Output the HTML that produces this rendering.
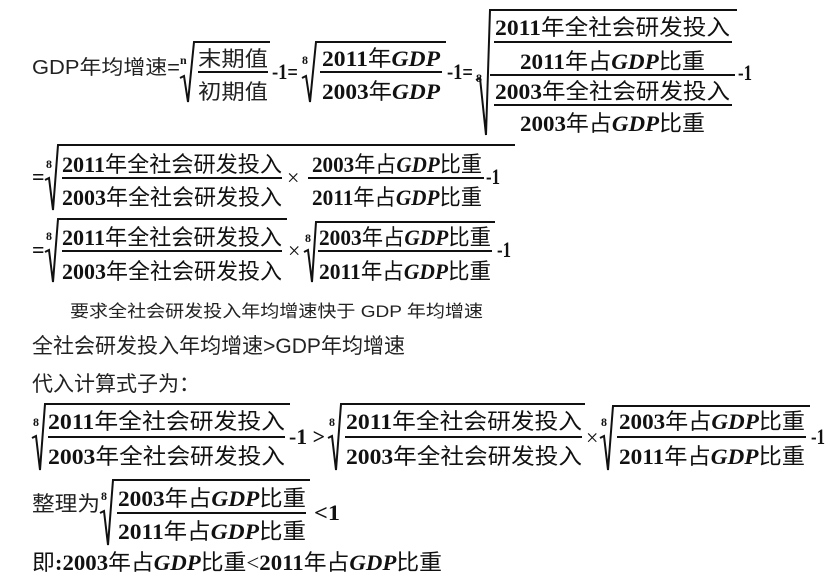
<!DOCTYPE html>
<html><head><meta charset="utf-8"><style>
html,body{margin:0;padding:0;background:#fff;width:830px;height:584px;overflow:hidden}
svg{display:block}
.f{font-family:"Liberation Serif","Noto Sans CJK SC",serif;font-size:22px;fill:#111}
.b{font-weight:bold}
.g{font-weight:bold;font-style:italic}
.s{font-family:"Liberation Sans","Noto Sans CJK SC",sans-serif;fill:#222}
.i{font-family:"Liberation Serif",serif;font-size:12px;font-weight:bold;fill:#111}
</style></head><body>
<svg width="830" height="584" viewBox="0 0 830 584" xmlns="http://www.w3.org/2000/svg">
<g stroke="#111" fill="none" stroke-width="2">
<path d="M180,78 L184,76 L188,102 L194,42 L270,42"/>
<path d="M302,78 L306,76 L310,102 L316,42 L446,42"/>
<path d="M476,80 L480,78 L486,135 L490,10 L737,10"/>
<line x1="198" y1="72" x2="268" y2="72"/>
<line x1="320" y1="72" x2="442" y2="72"/>
<line x1="494" y1="42" x2="732" y2="42"/>
<line x1="490" y1="75" x2="735" y2="75"/>
<line x1="494" y1="105" x2="732" y2="105"/>
<path d="M45,180 L49,178 L53,210 L58,145 L515,145"/>
<line x1="62" y1="178" x2="282" y2="178"/>
<line x1="308" y1="178" x2="484" y2="178"/>
<path d="M45,252 L49,250 L53,282 L58,219 L287,219"/>
<line x1="62" y1="251" x2="282" y2="251"/>
<path d="M304,252 L308,250 L312,282 L316,222 L495,222"/>
<line x1="318" y1="251" x2="492" y2="251"/>
<path d="M32,438 L36,436 L40,470 L45,404 L290,404"/>
<line x1="48" y1="437" x2="285" y2="437"/>
<path d="M328,438 L332,436 L336,470 L341,404 L585,404"/>
<line x1="345" y1="437" x2="582" y2="437"/>
<path d="M600,438 L604,436 L608,470 L613,406 L810,406"/>
<line x1="617" y1="437" x2="806" y2="437"/>
<path d="M100,513 L104,511 L108,545 L113,480 L310,480"/>
<line x1="117" y1="513" x2="306" y2="513"/>
</g>
<text class="i" x="180" y="64">n</text>
<text class="i" x="302" y="64">8</text>
<text class="i" x="476" y="82">8</text>
<text class="i" x="46" y="168">8</text>
<text class="i" x="46" y="240">8</text>
<text class="i" x="305" y="242">8</text>
<text class="i" x="33" y="426">8</text>
<text class="i" x="329" y="426">8</text>
<text class="i" x="601" y="426">8</text>
<text class="i" x="101" y="500">8</text>

<text class="s" x="32" y="74" font-size="20" textLength="148" lengthAdjust="spacingAndGlyphs">GDP年均增速=</text>
<text class="s" x="198" y="66" font-size="21" textLength="70" lengthAdjust="spacingAndGlyphs">末期值</text>
<text class="s" x="198" y="99" font-size="21" textLength="70" lengthAdjust="spacingAndGlyphs">初期值</text>
<text class="f b" x="272" y="79" textLength="26" lengthAdjust="spacingAndGlyphs">-1=</text>
<text class="f" x="322" y="66" textLength="118" lengthAdjust="spacingAndGlyphs"><tspan class="b">2011</tspan>年<tspan class="g">GDP</tspan></text>
<text class="f" x="322" y="99" textLength="118" lengthAdjust="spacingAndGlyphs"><tspan class="b">2003</tspan>年<tspan class="g">GDP</tspan></text>
<text class="f b" x="447" y="79" textLength="26" lengthAdjust="spacingAndGlyphs">-1=</text>
<text class="f" x="495" y="35" textLength="235" lengthAdjust="spacingAndGlyphs"><tspan class="b">2011</tspan>年全社会研发投入</text>
<text class="f" x="520" y="69" textLength="185" lengthAdjust="spacingAndGlyphs"><tspan class="b">2011</tspan>年占<tspan class="g">GDP</tspan>比重</text>
<text class="f" x="495" y="99" textLength="235" lengthAdjust="spacingAndGlyphs"><tspan class="b">2003</tspan>年全社会研发投入</text>
<text class="f" x="520" y="131" textLength="185" lengthAdjust="spacingAndGlyphs"><tspan class="b">2003</tspan>年占<tspan class="g">GDP</tspan>比重</text>
<text class="f b" x="738" y="80" textLength="14" lengthAdjust="spacingAndGlyphs">-1</text>

<text class="f b" x="32" y="184">=</text>
<text class="f" x="62" y="172" textLength="220" lengthAdjust="spacingAndGlyphs"><tspan class="b">2011</tspan>年全社会研发投入</text>
<text class="f" x="62" y="205" textLength="220" lengthAdjust="spacingAndGlyphs"><tspan class="b">2003</tspan>年全社会研发投入</text>
<text class="f" x="287" y="185" font-size="26">×</text>
<text class="f" x="312" y="172" textLength="170" lengthAdjust="spacingAndGlyphs"><tspan class="b">2003</tspan>年占<tspan class="g">GDP</tspan>比重</text>
<text class="f" x="312" y="205" textLength="170" lengthAdjust="spacingAndGlyphs"><tspan class="b">2011</tspan>年占<tspan class="g">GDP</tspan>比重</text>
<text class="f b" x="486" y="184" textLength="14" lengthAdjust="spacingAndGlyphs">-1</text>

<text class="f b" x="32" y="257">=</text>
<text class="f" x="62" y="245" textLength="220" lengthAdjust="spacingAndGlyphs"><tspan class="b">2011</tspan>年全社会研发投入</text>
<text class="f" x="62" y="279" textLength="220" lengthAdjust="spacingAndGlyphs"><tspan class="b">2003</tspan>年全社会研发投入</text>
<text class="f" x="288" y="258" font-size="26">×</text>
<text class="f" x="319" y="245" textLength="172" lengthAdjust="spacingAndGlyphs"><tspan class="b">2003</tspan>年占<tspan class="g">GDP</tspan>比重</text>
<text class="f" x="319" y="279" textLength="172" lengthAdjust="spacingAndGlyphs"><tspan class="b">2011</tspan>年占<tspan class="g">GDP</tspan>比重</text>
<text class="f b" x="497" y="257" textLength="14" lengthAdjust="spacingAndGlyphs">-1</text>

<text class="s" x="70" y="317" font-size="17" textLength="413" lengthAdjust="spacingAndGlyphs">要求全社会研发投入年均增速快于 GDP 年均增速</text>
<text class="s" x="32" y="353" font-size="21" textLength="373" lengthAdjust="spacingAndGlyphs">全社会研发投入年均增速&gt;GDP年均增速</text>
<text class="s" x="32" y="391" font-size="21" textLength="168" lengthAdjust="spacingAndGlyphs">代入计算式子为：</text>

<text class="f" x="48" y="429" textLength="237" lengthAdjust="spacingAndGlyphs"><tspan class="b">2011</tspan>年全社会研发投入</text>
<text class="f" x="48" y="464" textLength="237" lengthAdjust="spacingAndGlyphs"><tspan class="b">2003</tspan>年全社会研发投入</text>
<text class="f b" x="289" y="444" textLength="36" lengthAdjust="spacingAndGlyphs">-1 &gt;</text>
<text class="f" x="346" y="429" textLength="236" lengthAdjust="spacingAndGlyphs"><tspan class="b">2011</tspan>年全社会研发投入</text>
<text class="f" x="346" y="464" textLength="236" lengthAdjust="spacingAndGlyphs"><tspan class="b">2003</tspan>年全社会研发投入</text>
<text class="f" x="586" y="445" font-size="26">×</text>
<text class="f" x="619" y="429" textLength="186" lengthAdjust="spacingAndGlyphs"><tspan class="b">2003</tspan>年占<tspan class="g">GDP</tspan>比重</text>
<text class="f" x="619" y="464" textLength="186" lengthAdjust="spacingAndGlyphs"><tspan class="b">2011</tspan>年占<tspan class="g">GDP</tspan>比重</text>
<text class="f b" x="811" y="444" textLength="14" lengthAdjust="spacingAndGlyphs">-1</text>

<text class="s" x="32" y="511" font-size="21" textLength="68" lengthAdjust="spacingAndGlyphs">整理为</text>
<text class="f" x="118" y="506" textLength="188" lengthAdjust="spacingAndGlyphs"><tspan class="b">2003</tspan>年占<tspan class="g">GDP</tspan>比重</text>
<text class="f" x="118" y="539" textLength="188" lengthAdjust="spacingAndGlyphs"><tspan class="b">2011</tspan>年占<tspan class="g">GDP</tspan>比重</text>
<text class="f b" x="314" y="520" textLength="26" lengthAdjust="spacingAndGlyphs">&lt;1</text>

<text class="f" x="32" y="570" textLength="410" lengthAdjust="spacingAndGlyphs">即<tspan class="b">:2003</tspan>年占<tspan class="g">GDP</tspan>比重&lt;<tspan class="b">2011</tspan>年占<tspan class="g">GDP</tspan>比重</text>
</svg>
</body></html>
